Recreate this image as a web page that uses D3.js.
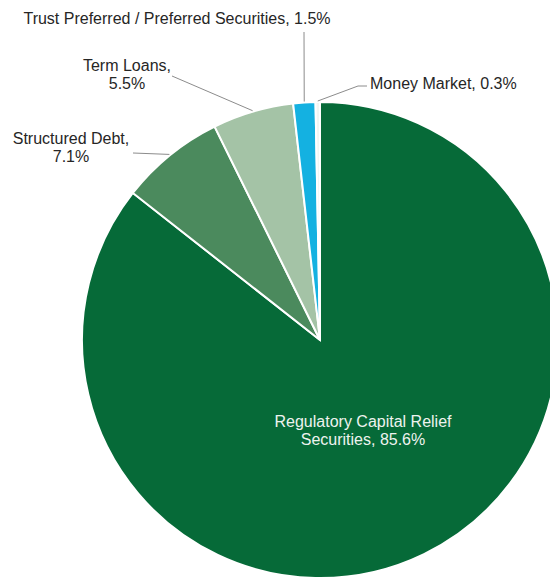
<!DOCTYPE html>
<html>
<head>
	<title>Pie</title>
	<meta charset='utf-8'>
	<style>
		body {
			margin: 0;
			background-color: #fff;
		}

		.label {
			font-family: 'Liberation Sans', Arial, sans-serif;
			font-size: 16px;
			fill: #262626;
		}

		.label.inside {
			fill: #eef3ef;
		}

		.leader {
			fill: none;
			stroke: #8c8c8c;
			stroke-width: 1px;
		}

		.slice {
			stroke: #fff;
			stroke-width: 2px;
		}
	</style>
</head>
<body>

<script src='https://d3js.org/d3.v7.min.js'></script>
<script>
	'use strict';
	const categories = [
		'Regulatory Capital Relief Securities',
		'Structured Debt',
		'Term Loans',
		'Trust Preferred / Preferred Securities',
		'Money Market'
	];
	const values = [85.6, 7.1, 5.5, 1.5, 0.3];
	const colors = ['#066a38', '#4b8a5d', '#a4c3a6', '#14b1e1', '#f2f6f3'];

	// строки подписей
	const labelLines = [
		['Regulatory Capital Relief', 'Securities, 85.6%'],
		['Structured Debt,', '7.1%'],
		['Term Loans,', '5.5%'],
		['Trust Preferred / Preferred Securities, 1.5%'],
		['Money Market, 0.3%']
	];

	// где стоят подписи и куда идут выноски
	const labelPos = [
		{x: 363, y: 427, anchor: 'middle', inside: true},
		{x: 71, y: 144, anchor: 'middle', leader: [[133, 153]]},
		{x: 127, y: 71, anchor: 'middle', leader: [[172, 76]]},
		{x: 177, y: 24, anchor: 'middle', leader: [[304, 32]]},
		{x: 370, y: 89, anchor: 'start', leader: [[358, 86], [367, 86]]}
	];

	const width = 550;
	const height = 578;
	const cx = 320;
	const cy = 340;
	const radius = 238;
	const lineHeight = 18;

	const svg = d3.select('body').append('svg')
		.attr('width', width)
		.attr('height', height);

	const g = svg.append('g')
		.attr('transform', 'translate(' + cx + ',' + cy + ')');

	const pie = d3.pie().sort(null).value(function(d) {return d;});
	const arcs = pie(values);

	const arc = d3.arc().innerRadius(0).outerRadius(radius);
	const edge = d3.arc().innerRadius(radius + 1).outerRadius(radius + 1);

	g.selectAll('.slice')
		.data(arcs)
		.enter()
		.append('path')
		.attr('class', 'slice')
		.attr('fill', function(d, i) {return colors[i];})
		.attr('d', arc);

	const line = d3.line();

	// выноски
	arcs.forEach(function(d, i) {
		const pos = labelPos[i];
		if (!pos.leader) return;
		const start = edge.centroid(d);
		const pts = [[start[0] + cx, start[1] + cy]].concat(pos.leader);
		svg.append('path')
			.attr('class', 'leader')
			.attr('d', line(pts));
	});

	// подписи
	labelLines.forEach(function(lines, i) {
		const pos = labelPos[i];
		const text = svg.append('text')
			.attr('class', pos.inside ? 'label inside' : 'label')
			.attr('text-anchor', pos.anchor)
			.attr('x', pos.x)
			.attr('y', pos.y);
		lines.forEach(function(s, j) {
			text.append('tspan')
				.attr('x', pos.x)
				.attr('dy', j === 0 ? 0 : lineHeight)
				.text(s);
		});
	});

</script>
</body>
</html>
